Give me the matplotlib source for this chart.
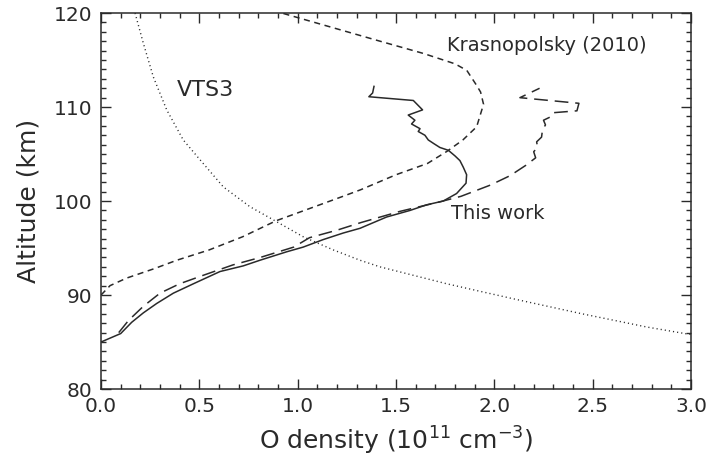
import matplotlib
matplotlib.use("Agg")
import matplotlib.pyplot as plt
from matplotlib.ticker import MultipleLocator

# ---- data ----
# This work (solid)
solid_x = [0.0, 0.10, 0.156, 0.215, 0.283, 0.368, 0.47, 0.605, 0.723, 0.808, 0.944, 1.028,
           1.13, 1.232, 1.317, 1.452, 1.571, 1.656, 1.74, 1.808, 1.856, 1.859, 1.842, 1.825,
           1.80, 1.766, 1.723, 1.693, 1.664, 1.647, 1.613, 1.622, 1.579, 1.596, 1.562, 1.635,
           1.588, 1.418, 1.362, 1.381, 1.388]
solid_alt = [85.0, 85.9, 87.1, 88.1, 89.1, 90.2, 91.2, 92.5, 93.1, 93.7, 94.6, 95.1,
             95.9, 96.6, 97.1, 98.3, 99.0, 99.6, 100.0, 100.8, 101.9, 102.8, 103.6, 104.3,
             104.8, 105.4, 105.7, 106.1, 106.5, 107.0, 107.4, 107.7, 108.2, 108.6, 109.15, 109.7,
             110.7, 111.0, 111.1, 111.5, 112.2]

# This work (long dashes)
ldash_x = [0.09, 0.14, 0.215, 0.30, 0.40, 0.52, 0.67, 0.81, 0.98, 1.06, 1.20, 1.32, 1.52,
           1.72, 1.83, 1.98, 2.08, 2.16, 2.21, 2.20, 2.22, 2.215, 2.24, 2.245, 2.26, 2.25,
           2.29, 2.30, 2.42, 2.43, 2.13, 2.23]
ldash_alt = [86.0, 87.3, 88.8, 90.2, 91.2, 92.1, 93.2, 94.0, 95.1, 96.1, 96.9, 97.7, 98.9,
             99.9, 100.5, 101.7, 102.7, 103.8, 104.6, 105.25, 105.7, 106.3, 106.8, 107.6, 108.1, 108.6,
             109.0, 109.4, 109.6, 110.4, 111.0, 112.0]

# Krasnopolsky (2010) (short dashes)
kras_x = [0.0, 0.046, 0.13, 0.27, 0.385, 0.55, 0.72, 0.89, 1.06, 1.23, 1.32, 1.50, 1.66,
          1.76, 1.84, 1.91, 1.945, 1.93, 1.91, 1.86, 1.80, 1.64, 1.42, 0.92]
kras_alt = [90.0, 91.0, 91.8, 92.8, 93.7, 94.8, 96.2, 97.9, 99.2, 100.5, 101.2, 102.8, 104.0,
            105.3, 106.5, 107.9, 110.3, 111.6, 112.3, 113.9, 114.6, 115.7, 117.0, 120.0]

# VTS3 (dotted)
vts_x = [0.173, 0.215, 0.266, 0.334, 0.418, 0.503, 0.622, 0.757, 0.893, 1.028, 1.181,
         1.317, 1.418, 1.757, 2.096, 2.435, 2.774, 2.969, 3.0]
vts_alt = [120.0, 116.8, 113.2, 109.7, 106.5, 104.4, 101.5, 99.4, 97.8, 96.2, 94.8,
           93.7, 93.0, 91.2, 89.6, 88.05, 86.6, 85.9, 85.8]

x_ticks = [0.0, 0.5, 1.0, 1.5, 2.0, 2.5, 3.0]
y_ticks = [80, 90, 100, 110, 120]

ink = "#2a2a2a"
plt.rcParams['font.family'] = ['DejaVu Sans']

fig = plt.figure(figsize=(7.08, 4.59), dpi=100)
ax = fig.add_axes([0.1427, 0.1525, 0.8333, 0.819])

ax.plot(solid_x, solid_alt, color=ink, lw=1.1, ls='-')
ax.plot(ldash_x, ldash_alt, color=ink, lw=1.1, ls=(0, (9, 4.5)))
ax.plot(kras_x, kras_alt, color=ink, lw=1.1, ls=(0, (4, 3)))
ax.plot(vts_x, vts_alt, color=ink, lw=1.0, ls=(0, (0.8, 2.2)))

ax.set_xlim(0, 3.0)
ax.set_ylim(80, 120)
ax.set_xticks(x_ticks)
ax.set_xticklabels([f"{v:.1f}" for v in x_ticks])
ax.set_yticks(y_ticks)
ax.xaxis.set_minor_locator(MultipleLocator(0.1))
ax.yaxis.set_minor_locator(MultipleLocator(1))
ax.tick_params(which='both', direction='in', top=True, right=True, color=ink,
               labelcolor=ink, width=1.0, labelsize=14.5)
ax.tick_params(which='major', length=7, pad=6)
ax.tick_params(which='minor', length=3.5)
for s in ax.spines.values():
    s.set_color(ink)
    s.set_linewidth(1.1)

ax.set_xlabel("O density (10$^{11}$ cm$^{-3}$)", fontsize=18, color=ink, labelpad=6)
ax.set_ylabel("Altitude (km)", fontsize=18, color=ink, labelpad=10)

ax.text(1.76, 116.6, "Krasnopolsky (2010)", fontsize=14, color=ink, va='center', ha='left')
ax.text(0.385, 111.8, "VTS3", fontsize=16, color=ink, va='center', ha='left')
ax.text(1.78, 98.7, "This work", fontsize=14, color=ink, va='center', ha='left')

fig.savefig("out.png", dpi=100)
